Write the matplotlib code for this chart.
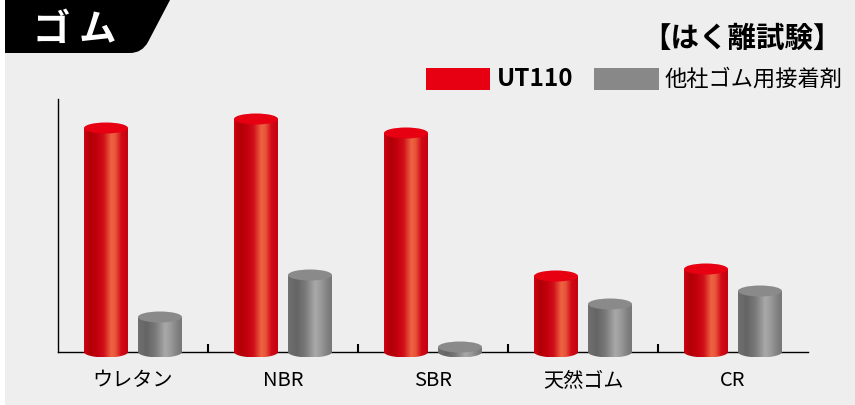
'''
Peel test chart: UT110 vs other rubber adhesive
'''

import numpy as np
import matplotlib
matplotlib.use("Agg")
import matplotlib.pyplot as plt
from matplotlib.path import Path
from matplotlib.patches import PathPatch, Ellipse, Rectangle
from matplotlib.colors import LinearSegmentedColormap

plt.rcParams['font.family'] = ['Noto Sans CJK JP', 'DejaVu Sans']


categories = ['ウレタン', 'NBR', 'SBR', '天然ゴム', 'CR']
ut110 = [224, 233, 219, 76, 83]
other = [35, 77, 5, 48, 61]

series_names = ['UT110', '他社ゴム用接着剤']
header = 'ゴ ム'
title = '【はく離試験】'


W, H = 855, 405
BG = '#eeeeee'

fig = plt.figure(figsize=(W / 100, H / 100), dpi=100, facecolor=BG)

# background layer in pixel coords
bg = fig.add_axes([0, 0, 1, 1], zorder=0)
bg.set_xlim(0, W)
bg.set_ylim(H, 0)
bg.axis('off')
bg.add_patch(Rectangle((0, 0), 5, H, color='white', lw=0))

# black header tab with slanted, rounded edge
codes = [Path.MOVETO, Path.LINETO, Path.LINETO, Path.CURVE3, Path.CURVE3,
         Path.LINETO, Path.CLOSEPOLY]
verts = [(5, 0), (170, 0), (148, 42), (142, 53), (130, 53), (5, 53), (5, 0)]
bg.add_patch(PathPatch(Path(verts, codes), facecolor='black', lw=0))
bg.text(75, 29, header, color='white', fontsize=27, fontweight='bold',
        ha='center', va='center')

# title and legend
bg.text(842, 39, title, fontsize=20.5, fontweight='bold', ha='right', va='center')
bg.add_patch(Rectangle((426, 68), 64, 22, color='#e60012', lw=0))
bg.text(497, 79, series_names[0], fontsize=17.5, fontweight='bold',
        ha='left', va='center')
bg.add_patch(Rectangle((594, 68), 65, 22, color='#888888', lw=0))
bg.text(665, 79, series_names[1], fontsize=16, ha='left', va='center')


# main axes: 1 y unit = 1 pixel
ax = fig.add_axes([58 / W, (H - 362) / H, 750 / W, 263 / H], zorder=1)
ax.set_facecolor('none')
ax.set_xlim(0, len(categories))
ax.set_ylim(-10, 253)

for s in ['top', 'right']:
    ax.spines[s].set_visible(False)
ax.spines['bottom'].set_position(('data', 0))
ax.spines['left'].set_bounds(0, 253)
for s in ['bottom', 'left']:
    ax.spines[s].set_linewidth(1.0)
    ax.spines[s].set_zorder(0.5)

ax.set_yticks([])
x = np.arange(len(categories)) + 0.5
ax.set_xticks(x)
ax.set_xticklabels(categories, fontsize=14.5)
ax.tick_params(axis='x', which='major', length=0, pad=13)
ax.set_xticks(np.arange(1, len(categories)), minor=True)
ax.tick_params(axis='x', which='minor', direction='in', length=6, width=1.5)

red_cmap = LinearSegmentedColormap.from_list('red', [
    (0.0, '#cf0012'), (0.15, '#b00006'), (0.3, '#c4000e'), (0.45, '#d0101a'),
    (0.62, '#ee6342'), (0.72, '#e8553a'), (0.85, '#d20a18'), (1.0, '#c4000e')])
gray_cmap = LinearSegmentedColormap.from_list('gray', [
    (0.0, '#707070'), (0.2, '#656565'), (0.4, '#7a7a7a'), (0.62, '#a9a9a9'),
    (0.75, '#9a9a9a'), (0.9, '#808080'), (1.0, '#777777')])

BW = 0.293
EH = 5.5
OFF = 0.18


def cylinder(xc, val, cmap, topcolor):
    x0, x1 = xc - BW / 2, xc + BW / 2
    t = np.linspace(np.pi, 2 * np.pi, 40)
    pts = [(x0, val), (x0, 0)]
    pts += [(xc + BW / 2 * np.cos(a), EH * np.sin(a)) for a in t]
    pts += [(x1, val), (x0, val)]
    clip = PathPatch(Path(pts), facecolor='none', lw=0, transform=ax.transData)
    ax.add_patch(clip)
    grad = np.linspace(0, 1, 256).reshape(1, -1)
    im = ax.imshow(grad, cmap=cmap, aspect='auto', extent=[x0, x1, -EH, val],
                   interpolation='bilinear', zorder=2)
    im.set_clip_path(clip)
    ax.add_patch(Ellipse((xc, val), BW, 2 * EH, facecolor=topcolor,
                         lw=0, zorder=3))


for i in range(len(categories)):
    cylinder(x[i] - OFF, ut110[i], red_cmap, '#e60012')
    cylinder(x[i] + OFF, other[i], gray_cmap, '#8a8a8a')

ax.set_xlim(0, len(categories))
ax.set_ylim(-10, 253)

fig.savefig('out.png', dpi=100, facecolor=BG)
